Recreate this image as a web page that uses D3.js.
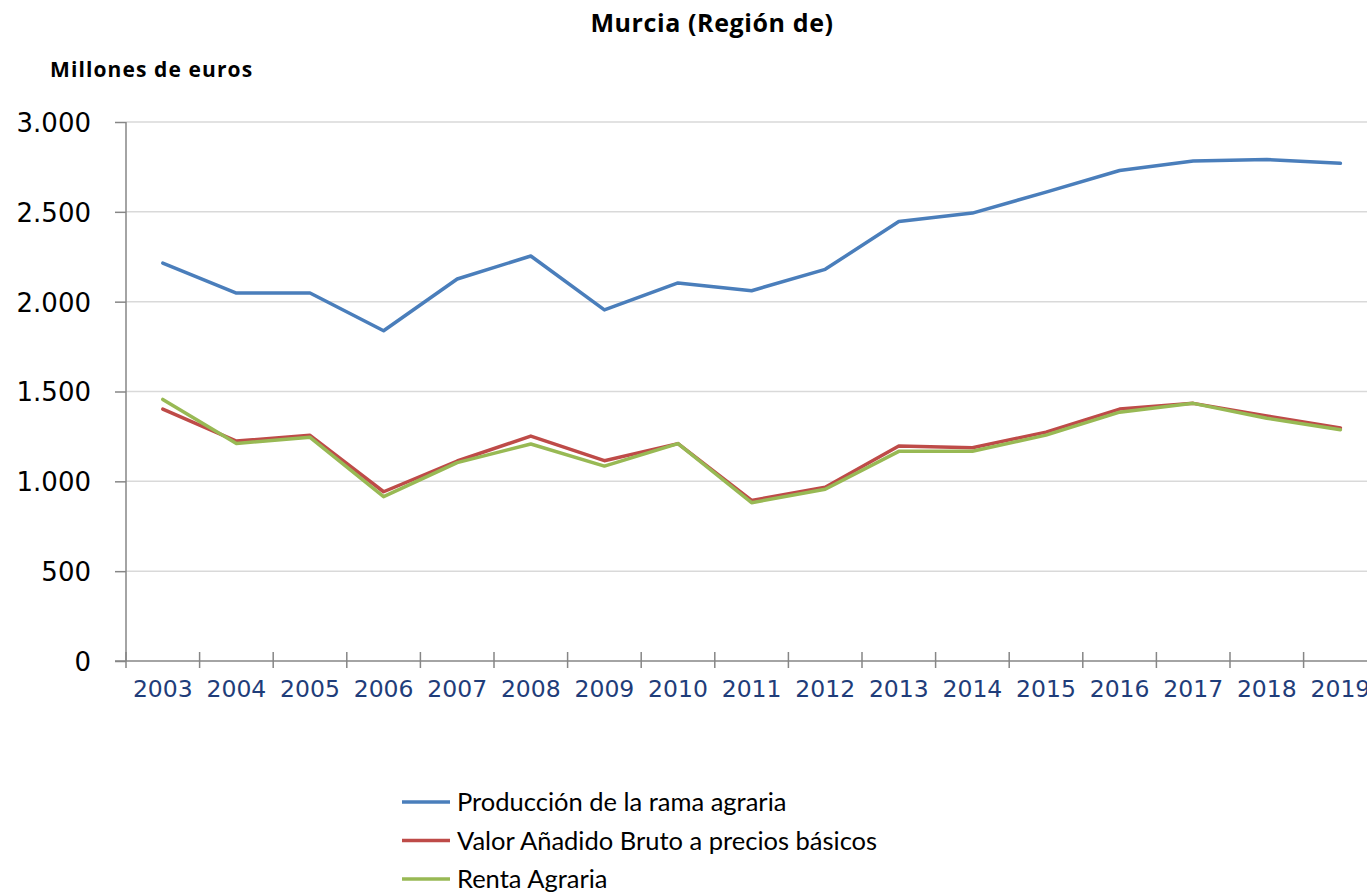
<!DOCTYPE html>
<meta charset="utf-8">

<!-- Load d3.js -->
<script src="https://d3js.org/d3.v7.min.js"></script>

<div id="my_dataviz"></div>
<style>
    body {
        margin: 0;
        font-family: 'Lato', 'Open Sans', sans-serif;
        background: #fff;
    }
</style>

<script>
    // years on the x axis
    var years = ["2003", "2004", "2005", "2006", "2007", "2008", "2009", "2010", "2011",
                 "2012", "2013", "2014", "2015", "2016", "2017", "2018", "2019"];

    // series values, millions of euros
    var produccion = [2215, 2048, 2048, 1838, 2126, 2254, 1954, 2104, 2061, 2180,
                      2446, 2493, 2610, 2730, 2783, 2791, 2770];
    var vab = [1402, 1224, 1256, 942, 1113, 1252, 1115, 1210, 894, 967,
               1197, 1187, 1274, 1402, 1434, 1364, 1297];
    var renta = [1456, 1211, 1245, 915, 1104, 1208, 1085, 1210, 881, 956,
                 1167, 1167, 1257, 1385, 1434, 1351, 1287];

    var seriesNames = ["Producción de la rama agraria", "Valor Añadido Bruto a precios básicos", "Renta Agraria"];
    var seriesColors = ["#4a7ebb", "#be4b48", "#98b954"];
    var yTicks = [0, 500, 1000, 1500, 2000, 2500, 3000];

    var series = [produccion, vab, renta].map(function(vals, i) {
        return {name: seriesNames[i], color: seriesColors[i], values: vals};
    });

    // dimensions
    var margin = {top: 122, left: 126},
        width = 17 * 73.6,
        height = 539;

    var svg = d3.select("#my_dataviz")
        .append("svg")
        .attr("width", 1367)
        .attr("height", 895)
        .append("g")
        .attr("transform", "translate(" + margin.left + "," + margin.top + ")");

    var x = d3.scaleBand()
        .domain(years)
        .range([0, width]);

    var y = d3.scaleLinear()
        .domain([0, 3000])
        .range([height, 0]);

    // gridlines
    svg.selectAll("line.grid")
        .data(yTicks.slice(1))
        .enter()
        .append("line")
        .attr("class", "grid")
        .attr("x1", 0)
        .attr("x2", width)
        .attr("y1", function(d) { return y(d); })
        .attr("y2", function(d) { return y(d); })
        .style("stroke", "#d9d9d9")
        .style("stroke-width", 1.5);

    // y axis
    var yAxis = svg.append("g")
        .call(d3.axisLeft(y).tickValues(yTicks).tickSize(11).tickPadding(24)
            .tickFormat(function(d) { return d3.format(",")(d).replace(/,/g, "."); }));
    yAxis.select(".domain").style("stroke", "#868686").style("stroke-width", 1.5)
        .attr("d", "M0," + y(0) + "V" + y(3000));
    yAxis.selectAll(".tick line").style("stroke", "#868686").style("stroke-width", 1.5);
    yAxis.selectAll("text")
        .style("font-family", "'DejaVu Sans', sans-serif")
        .style("font-size", "26px")
        .style("fill", "#000")
        .attr("dy", "0.36em");

    // x axis with ticks between the categories
    var xAxis = svg.append("g")
        .attr("transform", "translate(0," + height + ")");
    xAxis.append("line")
        .attr("x1", -11)
        .attr("x2", width)
        .style("stroke", "#868686")
        .style("stroke-width", 1.5);
    xAxis.selectAll("line.tick")
        .data(years)
        .enter()
        .append("line")
        .attr("class", "tick")
        .attr("x1", function(d) { return x(d); })
        .attr("x2", function(d) { return x(d); })
        .attr("y1", -9)
        .attr("y2", 7)
        .style("stroke", "#868686")
        .style("stroke-width", 1.5);
    xAxis.selectAll("text")
        .data(years)
        .enter()
        .append("text")
        .attr("x", function(d) { return x(d) + x.bandwidth() / 2; })
        .attr("y", 36)
        .style("text-anchor", "middle")
        .style("font-family", "'DejaVu Sans', sans-serif")
        .style("font-size", "23.5px")
        .style("fill", "#1f3d7a")
        .text(function(d) { return d; });

    // lines
    var line = d3.line()
        .x(function(d, i) { return x(years[i]) + x.bandwidth() / 2; })
        .y(function(d) { return y(d); });

    svg.selectAll("path.serie")
        .data(series)
        .enter()
        .append("path")
        .attr("class", "serie")
        .attr("d", function(d) { return line(d.values); })
        .style("fill", "none")
        .style("stroke", function(d) { return d.color; })
        .style("stroke-width", 3.5)
        .style("stroke-linejoin", "round")
        .style("stroke-linecap", "round");

    // titles
    var root = d3.select("#my_dataviz svg");
    root.append("text")
        .attr("x", 712)
        .attr("y", 32)
        .style("text-anchor", "middle")
        .style("font-family", "'Open Sans', sans-serif")
        .style("font-weight", "bold")
        .style("font-size", "25px")
        .style("letter-spacing", "0.6px")
        .text("Murcia (Región de)");
    root.append("text")
        .attr("x", 50)
        .attr("y", 77)
        .style("font-family", "'Open Sans', sans-serif")
        .style("font-weight", "bold")
        .style("font-size", "21px")
        .style("letter-spacing", "1.1px")
        .text("Millones de euros");

    // legend
    var legend = root.selectAll("g.legend")
        .data(series)
        .enter()
        .append("g")
        .attr("class", "legend")
        .attr("transform", function(d, i) { return "translate(402," + (802 + i * 38.5) + ")"; });
    legend.append("line")
        .attr("x1", 0)
        .attr("x2", 48)
        .style("stroke", function(d) { return d.color; })
        .style("stroke-width", 3.5);
    legend.append("text")
        .attr("x", 55)
        .attr("dy", "0.36em")
        .style("font-size", "25.5px")
        .style("fill", "#000")
        .text(function(d) { return d.name; });
</script>
